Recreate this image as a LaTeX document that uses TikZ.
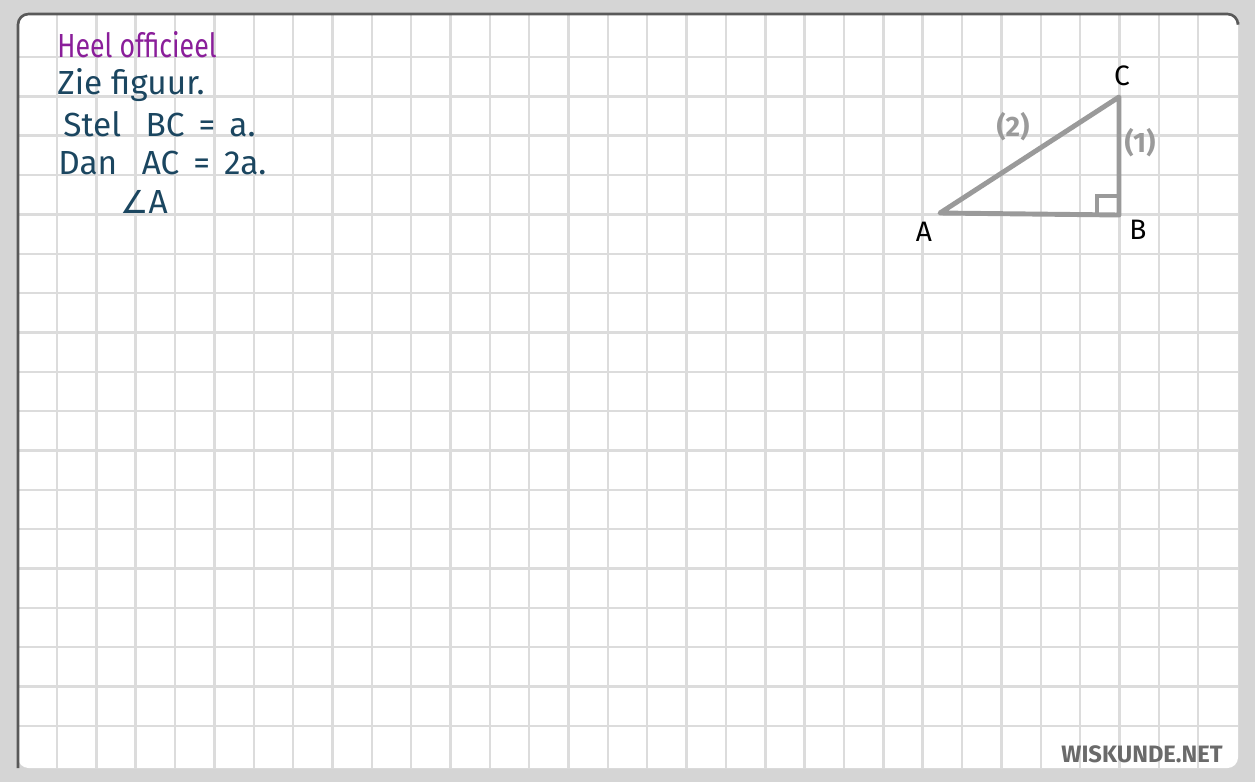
\documentclass[tikz,border=0pt]{standalone}
\usepackage{fontspec}
\setmainfont{Fira Sans}
\newfontfamily\symfont{DejaVu Sans}
\usepackage{graphicx}
\usepackage{tikz}

\definecolor{frame}{HTML}{D5D5D5}
\definecolor{gridgray}{HTML}{DCDCDC}
\definecolor{ink}{HTML}{1B4660}
\definecolor{pen}{HTML}{8A1E9A}
\definecolor{chalk}{HTML}{9A9A9A}
\definecolor{logo}{HTML}{6A6A6A}

\newcommand{\eqsp}{\hspace{8pt}=\hspace{8pt}}

\tikzset{
  hand/.style={anchor=west,inner sep=0pt,text=ink,font=\fontsize{19}{22}\selectfont},
  vlabel/.style={inner sep=0pt,text=black,font=\fontsize{16}{18}\selectfont},
  side/.style={inner sep=0pt,text=chalk,font=\bfseries\fontsize{16}{18}\selectfont}
}

\begin{document}
\begin{tikzpicture}[x=0.02cm,y=-0.02cm]

      \useasboundingbox (0,0) rectangle (1255,782);
      \fill[frame] (0,0) rectangle (1255,782);
      \fill[white,rounded corners=6] (18,14) rectangle (1238,768);

      % grid
      \foreach \i in {0,...,29}
        \draw[gridgray,line width=1.4pt] ({57+39.35*\i},14) -- ({57+39.35*\i},768);
      \foreach \j in {0,...,17}
        \draw[gridgray,line width=1.4pt] (18,{57+39.35*\j}) -- (1238,{57+39.35*\j});

      \draw[black!65,line width=1.5pt,rounded corners=6] (18,768) -- (18,14) -- (1238,14) -- (1238,22);

      % text
      \node[hand,text=pen] (t1) at (57,45){\scalebox{0.8}[1]{Heel officieel}};
      \node[hand] (t2) at (57,85){Zie figuur.};
      \node[hand] (t3) at (63,124){Stel\hspace{14pt}BC\eqsp a.};
      \node[hand] (t4) at (58,163){Dan\hspace{14pt}AC\eqsp 2a.};
      \node[hand] (t5) at (120,202){{\symfont\fontsize{18}{20}\selectfont ∠}A};

      % triangle
      \coordinate (A) at (940,213);
      \coordinate (B) at (1119,215);
      \coordinate (C) at (1119,97);
      \coordinate (r1) at (1097,215);
      \coordinate (r2) at (1097,196);
      \coordinate (r3) at (1119,196);

      \draw[chalk,line width=2.8pt,line join=round] (A) -- (B) -- (C) -- cycle;
      \draw[chalk,line width=2pt] (r1) -- (r2) -- (r3);

      \node[vlabel] (a) at (924,232){A};
      \node[vlabel] (b) at (1138,230){B};
      \node[vlabel] (c) at (1122,76){C};
      \node[side] (s2) at (1013,127){(2)};
      \node[side] (s1) at (1140,143){(1)};

      \node[inner sep=0pt,text=logo,font=\bfseries\fontsize{13.5}{16}\selectfont] (w) at (1142,754){WISKUNDE.NET};
    \end{tikzpicture}
\end{document}
